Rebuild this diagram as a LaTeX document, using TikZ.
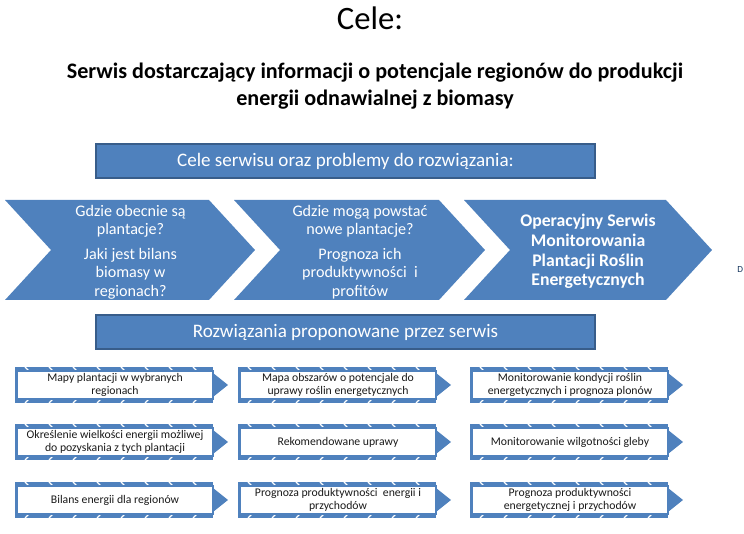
\documentclass[tikz,border=0pt]{standalone}
\usepackage{fontspec}
\setmainfont{Carlito}
\definecolor{officeblue}{HTML}{4F81BD}
\definecolor{officeedge}{HTML}{385D8A}
\definecolor{boxtext}{HTML}{1A1A1A}
\definecolor{stray}{HTML}{17375E}

\begin{document}
\begin{tikzpicture}[x=0.75pt, y=-0.75pt,
    banner/.style={fill=officeblue, draw=officeedge, line width=0.9pt},
    bannertxt/.style={text=white, font=\fontsize{14.3}{17}\selectfont},
    chevtxt/.style={text=white, align=center, font=\fontsize{12.1}{13.7}\selectfont},
    boxtxt/.style={text=boxtext, align=center, font=\fontsize{8.8}{9.6}\selectfont}]
    \useasboundingbox (0,0) rectangle (744,534);

    % Titres
    \node (title) at (370,18) {\fontsize{24.5}{28}\selectfont Cele:};
    \node[align=center, font=\bfseries\fontsize{16.6}{20.2}\selectfont] (subtitle) at (375,86.5)
        {Serwis dostarczający informacji o potencjale regionów do produkcji\\energii odnawialnej z biomasy};

    % Bandeau des objectifs
    \draw[banner] (96,144) rectangle (595,178);
    \node[bannertxt] (goals) at (345.5,161) {Cele serwisu oraz problemy do rozwiązania:};

    % Trois chevrons
    \foreach \cl/\cr in {5/209, 234/439, 464/666}
        \fill[officeblue] (\cl,200) -- (\cr,200) -- (\cr+46,250) -- (\cr,300) -- (\cl,300) -- (\cl+46,250) -- cycle;

    \node[chevtxt] (where) at (130.5,252)
        {Gdzie obecnie są\\plantacje?\\[5pt]Jaki jest bilans\\biomasy w\\regionach?};
    \node[chevtxt] (future) at (360,252)
        {Gdzie mogą powstać\\nowe plantacje?\\[5pt]Prognoza ich\\produktywności~ i\\profitów};
    \node[chevtxt, font=\bfseries\fontsize{13.3}{14.7}\selectfont] (service) at (588,251.5)
        {Operacyjny Serwis\\Monitorowania\\Plantacji Roślin\\Energetycznych};

    % Bandeau des solutions
    \draw[banner] (96,315) rectangle (595,349);
    \node[bannertxt] (answers) at (345.5,332) {Rozwiązania proponowane przez serwis};

    % Petites flèches-boîtes
    \foreach \L/\c/\nm/\txt in {
        17/385/maps/{Mapy plantacji w wybranych\\regionach},
        17/442/energy/{Określenie wielkości energii możliwej\\do pozyskania z tych plantacji},
        17/500/balance/{Bilans energii dla regionów},
        240/385/areas/{Mapa obszarów o potencjale do\\uprawy roślin energetycznych},
        240/442/crops/{Rekomendowane uprawy},
        240/500/yield/{Prognoza produktywności~ energii i\\przychodów},
        472/385/health/{Monitorowanie kondycji roślin\\energetycznych i prognoza plonów},
        472/442/moisture/{Monitorowanie wilgotności gleby},
        472/500/income/{Prognoza produktywności\\energetycznej i przychodów}} {
        \fill[officeblue] (\L-2,\c-18) rectangle (\L+196,\c+18);
        \fill[officeblue] (\L+196,\c-12) -- (\L+211,\c) -- (\L+196,\c+12) -- cycle;
        \foreach \s in {8,32,...,190} {
            \draw[white, line width=0.9pt] (\L+\s,\c-18) -- ++(4,4);
            \draw[white, line width=0.9pt] (\L+\s,\c+18) -- ++(4,-4);
        }
        \draw[fill=white, draw=officeblue, line width=1.1pt] (\L,\c-14) rectangle (\L+196,\c+14);
        \node[boxtxt] (\nm) at (\L+98,\c) {\txt};
    }

    % Fragment au bord droit
    \node[anchor=east, text=stray, inner sep=0.5pt, font=\fontsize{7}{8}\selectfont] (edge) at (744,270) {D};
\end{tikzpicture}
\end{document}
